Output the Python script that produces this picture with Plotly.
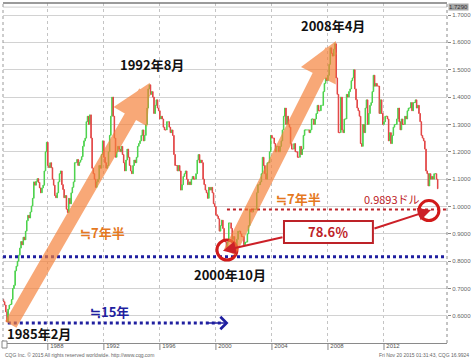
import plotly.graph_objects as go
import pandas as pd
from datetime import date, timedelta

# ---------------- data (monthly closes, EUR/USD, Oct 1984 - Nov 2015) ----------------
close_1980s = [
    0.660, 0.652, 0.640,
    0.615, 0.578, 0.625, 0.640, 0.642, 0.660, 0.700, 0.712, 0.765, 0.782, 0.800, 0.822,
    0.848, 0.872, 0.860, 0.888, 0.878, 0.910, 0.948, 0.968, 0.958, 0.980, 1.002, 1.030,
    1.090, 1.078, 1.092, 1.102, 1.088, 1.068, 1.050, 1.068, 1.078, 1.130, 1.200, 1.235,
    1.150, 1.142, 1.160, 1.142, 1.100, 1.078, 1.040, 1.032, 1.050, 1.090, 1.120, 1.130,
    1.080, 1.062, 1.032, 1.040, 0.990, 0.978, 1.030, 1.010, 1.050, 1.070, 1.090, 1.160,
]
close_1990s = [
    1.160, 1.172, 1.150, 1.162, 1.170, 1.182, 1.220, 1.240, 1.250, 1.310, 1.330, 1.300,
    1.335, 1.250, 1.140, 1.120, 1.100, 1.070, 1.090, 1.100, 1.150, 1.140, 1.190, 1.240,
    1.180, 1.160, 1.140, 1.150, 1.200, 1.260, 1.330, 1.400, 1.330, 1.250, 1.180, 1.200,
    1.220, 1.210, 1.200, 1.220, 1.190, 1.160, 1.130, 1.170, 1.210, 1.180, 1.150, 1.130,
    1.120, 1.150, 1.170, 1.160, 1.180, 1.220, 1.230, 1.240, 1.260, 1.280, 1.240, 1.260,
    1.300, 1.360, 1.430, 1.445, 1.410, 1.420, 1.400, 1.340, 1.370, 1.390, 1.360, 1.350,
    1.320, 1.330, 1.320, 1.290, 1.280, 1.280, 1.310, 1.310, 1.290, 1.270, 1.280, 1.260,
    1.190, 1.150, 1.150, 1.130, 1.150, 1.130, 1.060, 1.080, 1.110, 1.120, 1.130, 1.100,
    1.080, 1.090, 1.080, 1.100, 1.110, 1.100, 1.100, 1.120, 1.170, 1.190, 1.160, 1.170,
    1.160, 1.100, 1.080, 1.060, 1.050, 1.030, 1.070, 1.060, 1.070, 1.050, 1.010, 1.000,
]
close_2000s = [
    0.970, 0.965, 0.955, 0.910, 0.930, 0.950, 0.920, 0.880, 0.870, 0.845, 0.870, 0.940,
    0.940, 0.920, 0.880, 0.890, 0.850, 0.850, 0.880, 0.910, 0.910, 0.900, 0.890, 0.890,
    0.860, 0.870, 0.870, 0.900, 0.930, 0.990, 0.980, 0.980, 0.990, 0.990, 0.990, 1.050,
    1.080, 1.080, 1.090, 1.120, 1.180, 1.150, 1.120, 1.100, 1.160, 1.160, 1.200, 1.260,
    1.250, 1.250, 1.230, 1.200, 1.220, 1.220, 1.200, 1.220, 1.240, 1.280, 1.330, 1.360,
    1.300, 1.330, 1.300, 1.290, 1.230, 1.210, 1.210, 1.230, 1.200, 1.200, 1.180, 1.180,
    1.220, 1.190, 1.210, 1.260, 1.280, 1.280, 1.280, 1.280, 1.270, 1.280, 1.320, 1.320,
    1.300, 1.320, 1.340, 1.370, 1.350, 1.350, 1.370, 1.370, 1.420, 1.450, 1.470, 1.460,
    1.480, 1.520, 1.580, 1.560, 1.550, 1.575, 1.595, 1.470, 1.410, 1.270, 1.270, 1.400,
    1.280, 1.270, 1.320, 1.320, 1.410, 1.400, 1.420, 1.430, 1.460, 1.470, 1.500, 1.430,
]
close_2010s = [
    1.390, 1.360, 1.350, 1.330, 1.230, 1.220, 1.300, 1.270, 1.360, 1.390, 1.300, 1.340,
    1.370, 1.380, 1.420, 1.480, 1.440, 1.450, 1.440, 1.440, 1.340, 1.390, 1.340, 1.300,
    1.310, 1.330, 1.330, 1.320, 1.240, 1.270, 1.230, 1.260, 1.290, 1.300, 1.300, 1.320,
    1.360, 1.310, 1.280, 1.320, 1.300, 1.300, 1.330, 1.320, 1.350, 1.360, 1.360, 1.380,
    1.350, 1.380, 1.380, 1.390, 1.360, 1.370, 1.340, 1.310, 1.260, 1.250, 1.240, 1.210,
    1.130, 1.120, 1.075, 1.120, 1.100, 1.110, 1.100, 1.120, 1.120, 1.100, 1.065,
]
first_open = 0.665
start_month = "1984-10-01"
year_ticks = ["1988", "1992", "1996", "2000", "2004", "2008", "2012"]
last_price = 1.7290
retrace_level = 0.9893
low_level = 0.816
retrace_pct = "78.6％"

closes = close_1980s + close_1990s + close_2000s + close_2010s
dates = pd.date_range(start_month, periods=len(closes), freq="MS")
opens = [first_open] + closes[:-1]
highs = [max(o, c) for o, c in zip(opens, closes)]
lows = [min(o, c) for o, c in zip(opens, closes)]


def yr(f):
    y = int(f)
    return (date(y, 1, 1) + timedelta(days=(f - y) * 365.25)).isoformat()


GREEN = "#4cd24c"
RED = "#e24545"
ORANGE_BAND = "rgba(246,128,56,0.68)"
ORANGE_TXT = "#e5791f"
BLUE = "#1f1fa0"
DRED = "#bd2228"
CJK = "Noto Sans CJK JP, Liberation Sans, sans-serif"

fig = go.Figure()
fig.add_trace(go.Candlestick(
    x=dates, open=opens, high=highs, low=lows, close=closes,
    increasing=dict(line=dict(color=GREEN, width=1), fillcolor=GREEN),
    decreasing=dict(line=dict(color=RED, width=1), fillcolor=RED),
    whiskerwidth=0, showlegend=False, hoverinfo="skip",
))

shapes = []
shapes.append(dict(type="line", xref="paper", x0=0, x1=1, yref="y", y0=last_price, y1=last_price,
                   line=dict(color="#cfcfcf", width=1), layer="below"))
shapes.append(dict(type="line", xref="paper", x0=0, x1=1, yref="paper", y0=1, y1=1,
                   line=dict(color="#7a7a7a", width=1.5)))
shapes.append(dict(type="line", xref="paper", x0=0, x1=0, yref="paper", y0=0, y1=1,
                   line=dict(color="#9a9a9a", width=1, dash="dot")))
shapes.append(dict(type="line", xref="paper", x0=1, x1=1, yref="paper", y0=0, y1=1,
                   line=dict(color="#8a8a8a", width=1, dash="dot")))
for y in year_ticks:
    shapes.append(dict(type="line", xref="x", x0=f"{y}-01-01", x1=f"{y}-01-01",
                       yref="paper", ysizemode="pixel", yanchor=0, y0=0, y1=-7,
                       line=dict(color="#888888", width=1)))
shapes.append(dict(type="rect", xref="paper", xsizemode="pixel", xanchor=0, x0=-1, x1=4,
                   yref="paper", ysizemode="pixel", yanchor=0, y0=-5, y1=2,
                   line=dict(color="#888888", width=1), fillcolor="white"))
shapes.append(dict(type="line", xref="paper", x0=0, x1=1, yref="y", y0=low_level, y1=low_level,
                   line=dict(color=BLUE, width=3, dash="dot")))
shapes.append(dict(type="line", xref="x", x0=yr(2000.79), x1=yr(2016.5), yref="y",
                   y0=retrace_level, y1=retrace_level,
                   line=dict(color=DRED, width=2, dash="dot")))
shapes.append(dict(type="line", xref="x", x0=yr(1985.14), x1=yr(2000.55), yref="y",
                   y0=0.574, y1=0.574, line=dict(color=BLUE, width=3, dash="dot")))
shapes.append(dict(type="rect", xref="x", x0=yr(2004.86), x1=yr(2011.21), yref="y",
                   y0=0.867, y1=0.947, line=dict(color=DRED, width=2), fillcolor="white"))
for cx, cy in [(2000.79, 0.841), (2015.21, 0.985)]:
    shapes.append(dict(type="circle", xref="x", xsizemode="pixel", xanchor=yr(cx), x0=-10, x1=10,
                       yref="y", ysizemode="pixel", yanchor=cy, y0=-10, y1=10,
                       line=dict(color="#d11a1a", width=3)))

anns = []
anns.append(dict(x=yr(1995.29), y=1.452, ax=yr(1985.29), ay=0.563, xref="x", yref="y",
                 axref="x", ayref="y", showarrow=True, arrowhead=2, arrowwidth=13,
                 arrowsize=0.6, arrowcolor=ORANGE_BAND, text=""))
anns.append(dict(x=yr(2008.57), y=1.605, ax=yr(2000.93), ay=0.827, xref="x", yref="y",
                 axref="x", ayref="y", showarrow=True, arrowhead=2, arrowwidth=13,
                 arrowsize=0.6, arrowcolor=ORANGE_BAND, text=""))
anns.append(dict(x=yr(2000.9), y=0.574, ax=yr(1999.3), ay=0.574, xref="x", yref="y",
                 axref="x", ayref="y", showarrow=True, arrowhead=4, arrowwidth=1.5,
                 arrowsize=1.6, arrowcolor=BLUE, text=""))
anns.append(dict(x=yr(2000.5), y=0.838, ax=yr(2004.86), ay=0.889, xref="x", yref="y",
                 axref="x", ayref="y", showarrow=True, arrowhead=2, arrowwidth=2,
                 arrowsize=1.3, arrowcolor="#cc2028", text=""))
anns.append(dict(x=yr(2015.36), y=0.987, ax=yr(2011.21), ay=0.918, xref="x", yref="y",
                 axref="x", ayref="y", showarrow=True, arrowhead=2, arrowwidth=2,
                 arrowsize=1.3, arrowcolor="#cc2028", text=""))


def label(x, y, text, color, size, bold=True):
    t = f"<b>{text}</b>" if bold else text
    anns.append(dict(x=yr(x), y=y, xref="x", yref="y", text=t, showarrow=False,
                     font=dict(family=CJK, size=size, color=color)))


label(1995.43, 1.521, "1992年8月", "#111111", 13)
label(2008.36, 1.660, "2008年4月", "#111111", 13)
label(2001.0, 0.752, "2000年10月", "#111111", 13)
label(1987.36, 0.536, "1985年2月", "#111111", 13)
label(1992.43, 0.618, "≒15年", BLUE, 13)
label(1991.93, 0.905, "≒7年半", ORANGE_TXT, 13)
label(2005.86, 1.028, "≒7年半", ORANGE_TXT, 13)
label(2012.57, 1.028, f"{retrace_level:.4f}ドル", DRED, 11, bold=False)
label(2008.03, 0.907, retrace_pct, DRED, 13)

anns.append(dict(xref="paper", x=1, xanchor="left", xshift=1, yref="y", y=last_price,
                 text=f"{last_price:.4f}", showarrow=False, bgcolor="#a8a8a8",
                 font=dict(family="Liberation Sans", size=6, color="#333333"), borderpad=0))
anns.append(dict(xref="paper", x=0, xanchor="left", yref="paper", y=0, yanchor="top", yshift=-7,
                 text="CQG Inc. © 2015 All rights reserved worldwide. http://www.cqg.com",
                 showarrow=False, font=dict(family="Liberation Sans", size=5, color="#666666")))
anns.append(dict(xref="paper", x=1.054, xanchor="right", yref="paper", y=0, yanchor="top", yshift=-7,
                 text="Fri Nov 20 2015 01:31:43, CQG 16.9924",
                 showarrow=False, font=dict(family="Liberation Sans", size=5, color="#666666")))

fig.update_layout(
    width=473, height=361,
    margin=dict(l=3, r=26, t=3, b=18),
    paper_bgcolor="white", plot_bgcolor="white",
    shapes=shapes, annotations=anns, showlegend=False,
    xaxis=dict(
        type="date", range=[yr(1984.8), yr(2016.5)],
        tickvals=[f"{y}-01-01" for y in year_ticks], ticktext=year_ticks,
        showgrid=True, gridcolor="#c4c4c4", griddash="dot", gridwidth=1,
        ticks="", showline=True, linecolor="#8a8a8a", linewidth=1,
        tickfont=dict(family="Liberation Sans", size=6, color="#555555"),
        ticklabelshift=9, ticklabelstandoff=-3,
        rangeslider=dict(visible=False), zeroline=False,
    ),
    yaxis=dict(
        side="right", range=[0.501, 1.744], tick0=0.6, dtick=0.1,
        tickformat=".4f", showgrid=True, gridcolor="#d2d2d2", gridwidth=1,
        ticks="outside", ticklen=3, tickcolor="#888888",
        tickfont=dict(family="Liberation Sans", size=6, color="#666666"),
        zeroline=False,
    ),
)

fig.write_html("out.html", config={"displayModeBar": False},
               post_script="document.body.style.margin='0';document.body.style.padding='0';")
